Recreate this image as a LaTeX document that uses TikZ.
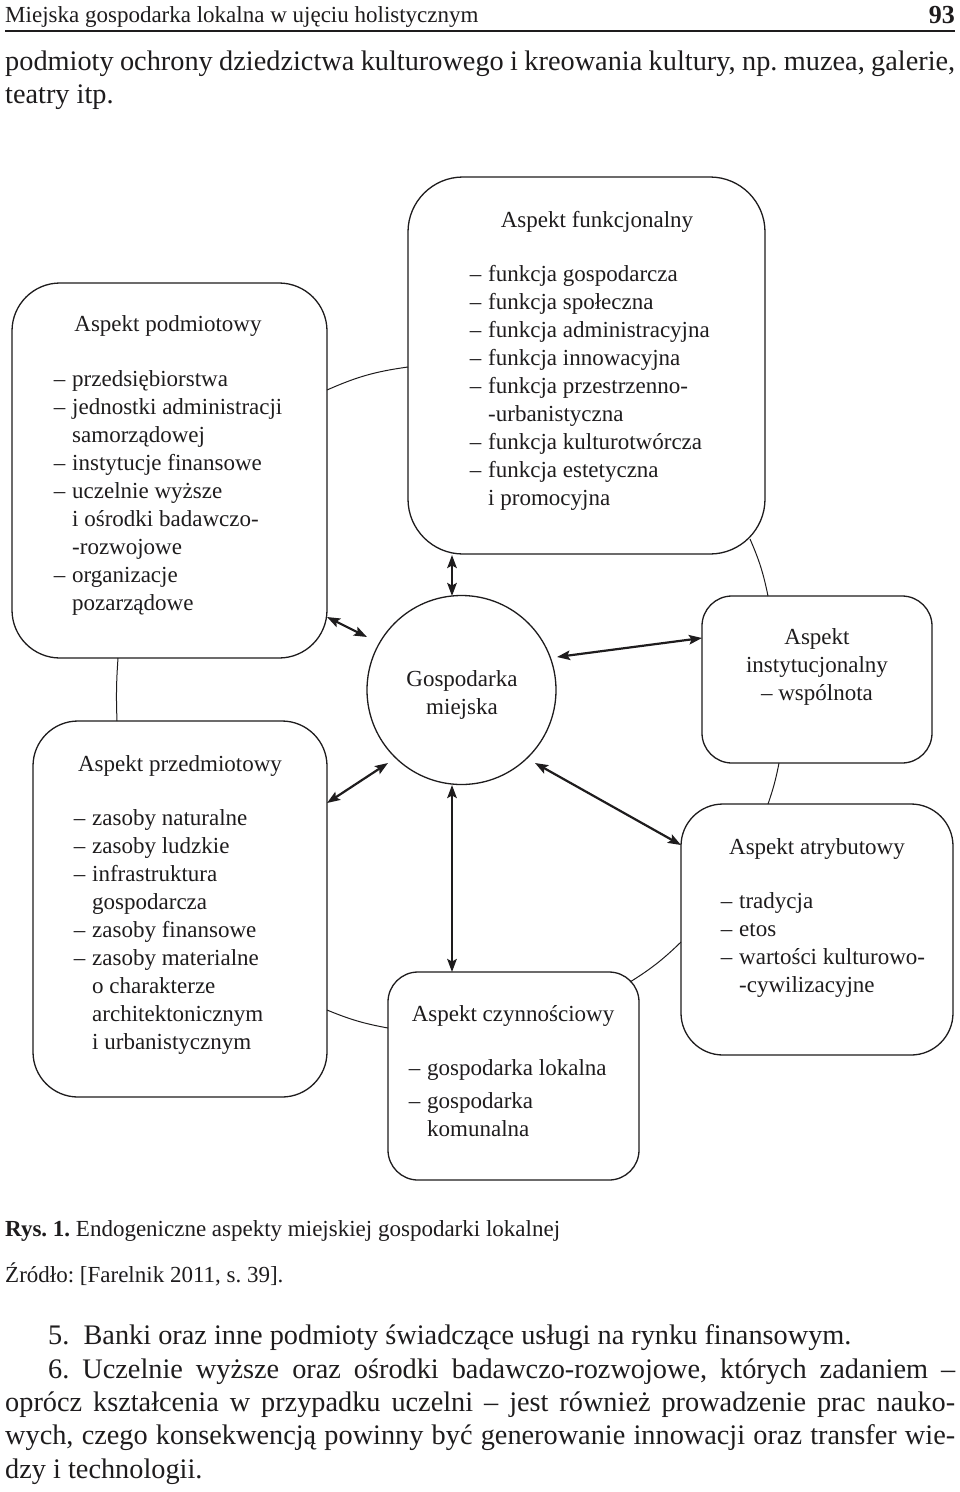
\documentclass[tikz,border=0pt]{standalone}
\usepackage{fontspec}
\setmainfont{Liberation Serif}
\usetikzlibrary{arrows.meta}
\definecolor{ink}{RGB}{30,28,29}
\newcommand{\boxfont}{\fontsize{23}{28}\selectfont}
\newcommand{\bodyfont}{\fontsize{28.3}{33}\selectfont}
\newcommand{\itm}{\llap{–\hspace{0.3em}}}
\newcommand{\lstx}[1]{\boxfont\begin{tabular}[t]{@{}l@{}}#1\end{tabular}}
\frenchspacing
\begin{document}
\begin{tikzpicture}[x=1pt,y=-1pt,
  every node/.style={text=ink},
  aspbox/.style={draw=ink,line width=1.3pt,rounded corners=#1,inner sep=0pt},
  aspbox/.default=45pt,
  title/.style={anchor=base,font=\boxfont,inner sep=0pt},
  items/.style={anchor=base west,inner sep=0pt},
  ring/.style={draw=ink,line width=1pt},
  link/.style={draw=ink,line width=2.2pt,{Stealth[length=13pt,width=9.5pt,inset=2.5pt]}-{Stealth[length=13pt,width=9.5pt,inset=2.5pt]}},
  txt/.style={anchor=base west,inner sep=0pt}]
\useasboundingbox (0,0) rectangle (960,1492);
\fill[white] (0,0) rectangle (960,1492);

% header
\node[txt,font=\fontsize{23}{28}\selectfont] (hdr) at (5,22) {Miejska gospodarka lokalna w ujęciu holistycznym};
\node[anchor=base east,inner sep=0pt,font=\fontsize{26}{30}\selectfont\bfseries] (pg) at (955,23) {93};
\coordinate (rl) at (5,31);
\coordinate (rr) at (955,31);
\draw[ink,line width=1.4pt] (rl) -- (rr);
\node[txt,font=\bodyfont] (p1) at (5,70) {\makebox[950pt][s]{podmioty ochrony dziedzictwa kulturowego i kreowania kultury, np. muzea, galerie,}};
\node[txt,font=\bodyfont] (p2) at (5,103) {teatry itp.};

% boxes
\node[aspbox=55pt,minimum width=357pt,minimum height=377pt] (funk) at (586.5,365.5) {};
\node[aspbox=48pt,minimum width=315pt,minimum height=375pt] (podm) at (169.5,470.5) {};
\node[aspbox=45pt,minimum width=294pt,minimum height=376pt] (przed) at (180,909) {};
\node[aspbox=30pt,minimum width=251pt,minimum height=208pt] (czyn) at (513.5,1076) {};
\node[aspbox=42pt,minimum width=272pt,minimum height=251pt] (atryb) at (817,929.5) {};
\node[aspbox=30pt,minimum width=230pt,minimum height=167pt] (inst) at (817,679.5) {};
\node[draw=ink,line width=1.3pt,circle,minimum size=189pt,inner sep=0pt] (gosp) at (461.5,690) {};

% texts
\node[title] (funkT) at (597,227) {Aspekt funkcjonalny};
\node[items] (funkL) at (488,281) {\lstx{\itm funkcja gospodarcza\\ \itm funkcja społeczna\\ \itm funkcja administracyjna\\ \itm funkcja innowacyjna\\ \itm funkcja przestrzenno-\\ -urbanistyczna\\ \itm funkcja kulturotwórcza\\ \itm funkcja estetyczna\\ i promocyjna}};

\node[title] (podmT) at (168,331) {Aspekt podmiotowy};
\node[items] (podmL) at (72,386) {\lstx{\itm przedsiębiorstwa\\ \itm jednostki administracji\\ samorządowej\\ \itm instytucje finansowe\\ \itm uczelnie wyższe\\ i ośrodki badawczo-\\ -rozwojowe\\ \itm organizacje\\ pozarządowe}};

\node[title] (przedT) at (180,771) {Aspekt przedmiotowy};
\node[items] (przedL) at (92,825) {\lstx{\itm zasoby naturalne\\ \itm zasoby ludzkie\\ \itm infrastruktura\\ gospodarcza\\ \itm zasoby finansowe\\ \itm zasoby materialne\\ o charakterze\\ architektonicznym\\ i urbanistycznym}};

\node[title] (czynT) at (513,1021) {Aspekt czynnościowy};
\node[items] (czynL) at (427,1075) {\lstx{\itm gospodarka lokalna\\[5pt] \itm gospodarka\\ komunalna}};

\node[title] (atrybT) at (817,854) {Aspekt atrybutowy};
\node[items] (atrybL) at (739,908) {\lstx{\itm tradycja\\ \itm etos\\ \itm wartości kulturowo-\\ -cywilizacyjne}};

\node[title,align=center] (instT) at (817,700) {Aspekt\\ instytucjonalny\\ – wspólnota};
\node[title,align=center] (gospT) at (462,714) {Gospodarka\\ miejska};

% ring connectors
\coordinate (r1a) at (327,390);  \coordinate (r1b) at (408,367);
\coordinate (r2a) at (750,539);  \coordinate (r2b) at (768,596);
\coordinate (r3a) at (779,763);  \coordinate (r3b) at (768,804);
\coordinate (r4a) at (681,942);  \coordinate (r4b) at (630,982);
\coordinate (r5a) at (388,1028); \coordinate (r5b) at (327,1010);
\coordinate (r6a) at (117,721);  \coordinate (r6b) at (118,658);
\draw[ring] (r1a) to[bend left=8] (r1b);
\draw[ring] (r2a) to[bend left=6] (r2b);
\draw[ring] (r3a) to[bend left=4] (r3b);
\draw[ring] (r4a) to[bend left=6] (r4b);
\draw[ring] (r5a) to[bend left=6] (r5b);
\draw[ring] (r6a) to[bend left=3] (r6b);

% arrows
\coordinate (a1a) at (452,555);  \coordinate (a1b) at (452,596);
\coordinate (a2a) at (327,617);  \coordinate (a2b) at (367,637);
\coordinate (a3a) at (557,657);  \coordinate (a3b) at (702,638);
\coordinate (a4a) at (327,803);  \coordinate (a4b) at (388,763);
\coordinate (a5a) at (535,763);  \coordinate (a5b) at (681,845);
\coordinate (a6a) at (452,785);  \coordinate (a6b) at (452,972);
\draw[link] (a1a) -- (a1b);
\draw[link] (a2a) -- (a2b);
\draw[link] (a3a) -- (a3b);
\draw[link] (a4a) -- (a4b);
\draw[link] (a5a) -- (a5b);
\draw[link] (a6a) -- (a6b);

% caption and body
\node[txt,font=\fontsize{23}{28}\selectfont] (cap) at (5,1236) {\textbf{Rys. 1.} Endogeniczne aspekty miejskiej gospodarki lokalnej};
\node[txt,font=\fontsize{23}{28}\selectfont] (src) at (5,1282) {Źródło: [Farelnik 2011, s. 39].};
\node[txt,font=\bodyfont] (b1) at (48,1344) {5.\ \ Banki oraz inne podmioty świadczące usługi na rynku finansowym.};
\node[txt,font=\bodyfont] (b2) at (48,1378) {\makebox[907pt][s]{6. Uczelnie wyższe oraz ośrodki badawczo-rozwojowe, których zadaniem –}};
\node[txt,font=\bodyfont] (b3) at (5,1411) {\makebox[950pt][s]{oprócz kształcenia w przypadku uczelni – jest również prowadzenie prac nauko-}};
\node[txt,font=\bodyfont] (b4) at (5,1444) {\makebox[950pt][s]{wych, czego konsekwencją powinny być generowanie innowacji oraz transfer wie-}};
\node[txt,font=\bodyfont] (b5) at (5,1478) {dzy i technologii.};
\end{tikzpicture}
\end{document}
